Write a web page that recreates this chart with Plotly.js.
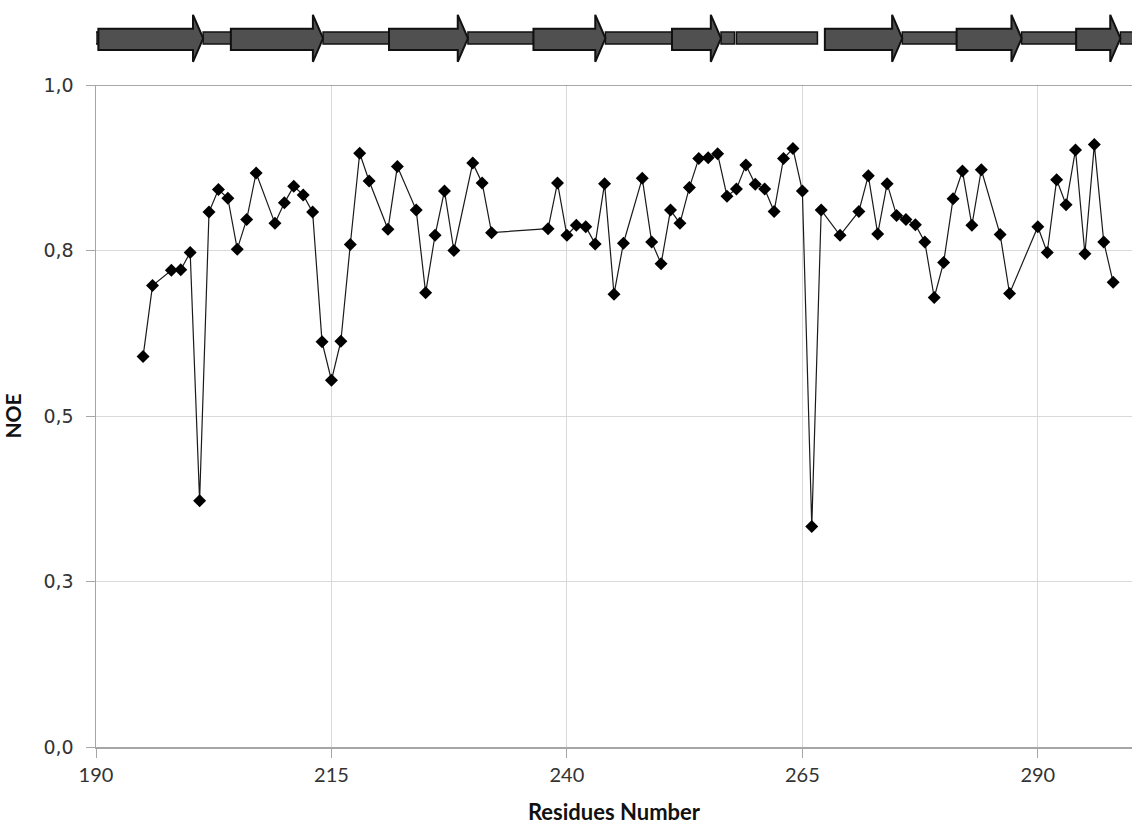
<!DOCTYPE html>
<html>
<head>
<meta charset="utf-8">
<script src="https://cdn.plot.ly/plotly-3.0.1.min.js"></script>
<style>
  html, body { margin: 0; padding: 0; background: #fff; }
  #chart { width: 1132px; height: 825px; }
</style>
</head>
<body>
<div id="chart"></div>
<script>
// Heteronuclear NOE per residue
const residues = [195,196,198,199,200,201,202,203,204,205,
  206,207,209,210,211,212,213,214,215,216,
  217,218,219,221,222,224,225,226,227,228,
  230,231,232,238,239,240,241,242,243,244,
  245,246,248,249,250,251,252,253,254,255,
  256,257,258,259,260,261,262,263,264,265,
  266,267,269,271,272,273,274,275,276,277,
  278,279,280,281,282,283,284,286,287,290,
  291,292,293,294,295,296,297,298];
const noe = [0.590,0.697,0.720,0.721,0.747,0.372,0.808,0.842,0.829,0.752,
  0.797,0.867,0.791,0.822,0.847,0.834,0.808,0.612,0.554,0.613,
  0.759,0.897,0.855,0.782,0.877,0.811,0.686,0.773,0.840,0.750,
  0.882,0.852,0.777,0.783,0.852,0.773,0.788,0.786,0.760,0.851,
  0.684,0.761,0.859,0.763,0.730,0.811,0.791,0.845,0.889,0.890,
  0.896,0.832,0.843,0.879,0.850,0.843,0.809,0.889,0.904,0.840,
  0.333,0.811,0.773,0.809,0.863,0.775,0.851,0.803,0.797,0.789,
  0.763,0.679,0.732,0.828,0.870,0.788,0.872,0.774,0.685,0.786,
  0.747,0.857,0.819,0.902,0.745,0.910,0.763,0.702];

// Axis ticks
const xTicks = [190, 215, 240, 265, 290];
const yTicks = [0, 0.25, 0.5, 0.75, 1.0];
const yTickText = ['0,0', '0,3', '0,5', '0,8', '1,0'];

// Secondary structure: beta strands (arrows) and coil segments (bars)
const strandStart = [190.25, 204.32, 221.11, 236.45, 251.16, 267.39, 281.38, 294.07];
const strandEnd   = [201.38, 214.11, 229.49, 244.09, 256.36, 275.61, 288.28, 298.77];
const coilStart = [189.6, 201.38, 214.11, 229.49, 244.09, 256.36, 258.0, 275.61, 288.28, 298.77];
const coilEnd   = [190.25, 204.32, 221.11, 236.45, 251.16, 257.8, 266.6, 281.38, 294.07, 300.5];

// Band geometry (paper units above the plot) and arrow head length (residues)
const HEAD_LEN = 1.08;
const body = { y0: 1.053, y1: 1.085 };
const head = { y0: 1.035, y1: 1.106 };
const coil = { y0: 1.062, y1: 1.080 };

const shapes = [];
coilStart.forEach((s, i) => {
  shapes.push({
    type: 'rect', xref: 'x', yref: 'paper',
    x0: s, x1: coilEnd[i], y0: coil.y0, y1: coil.y1,
    fillcolor: '#545454', line: { color: '#111', width: 1.5 }, layer: 'above'
  });
});
strandStart.forEach((s, i) => {
  const e = strandEnd[i];
  const b = e - HEAD_LEN;
  const mid = (head.y0 + head.y1) / 2;
  shapes.push({
    type: 'path', xref: 'x', yref: 'paper',
    path: `M ${s} ${body.y0} L ${b} ${body.y0} L ${b} ${head.y0} L ${e} ${mid} ` +
          `L ${b} ${head.y1} L ${b} ${body.y1} L ${s} ${body.y1} Z`,
    fillcolor: '#505050', line: { color: '#111', width: 2 }, layer: 'above'
  });
});
// darker frame line along the top of the plot
shapes.push({
  type: 'line', xref: 'paper', yref: 'y', x0: 0, x1: 1, y0: 1, y1: 1,
  line: { color: '#555', width: 1 }
});

const trace = {
  x: residues, y: noe,
  type: 'scatter', mode: 'lines+markers',
  line: { color: '#1a1a1a', width: 1.2 },
  marker: { symbol: 'diamond', size: 10, color: '#000', line: { width: 0 } },
  hoverinfo: 'x+y'
};

const layout = {
  width: 1132, height: 825,
  margin: { l: 96, r: 0, t: 85, b: 78, pad: 0 },
  paper_bgcolor: '#fff', plot_bgcolor: '#fff',
  showlegend: false,
  shapes: shapes,
  xaxis: {
    range: [190, 300], tickvals: xTicks, ticktext: xTicks.map(String),
    automargin: false,
    showline: true, linecolor: '#a6a6a6', linewidth: 1.5,
    ticks: 'outside', ticklen: 9, tickcolor: '#a6a6a6', tickwidth: 1,
    showgrid: true, gridcolor: '#d9d9d9', gridwidth: 1, zeroline: false,
    tickfont: { family: 'Lato, "Open Sans", sans-serif', size: 20, color: '#333' },
    title: { text: 'Residues Number', standoff: 24,
             font: { family: 'Lato, "Open Sans", sans-serif', size: 22, color: '#111', weight: 'bold' } }
  },
  yaxis: {
    range: [0, 1], tickvals: yTicks, ticktext: yTickText,
    automargin: false,
    showline: true, linecolor: '#a6a6a6', linewidth: 1.5,
    ticks: 'outside', ticklen: 9, tickcolor: '#a6a6a6', tickwidth: 1,
    ticklabelstandoff: 8,
    showgrid: true, gridcolor: '#d9d9d9', gridwidth: 1, zeroline: false,
    tickfont: { family: '"DejaVu Sans", Verdana, sans-serif', size: 19, color: '#333' },
    title: { text: 'NOE', standoff: 16,
             font: { family: 'Lato, "Open Sans", sans-serif', size: 21, color: '#111', weight: 'bold' } }
  }
};

Plotly.newPlot('chart', [trace], layout, { displayModeBar: false, staticPlot: true });
</script>
</body>
</html>
